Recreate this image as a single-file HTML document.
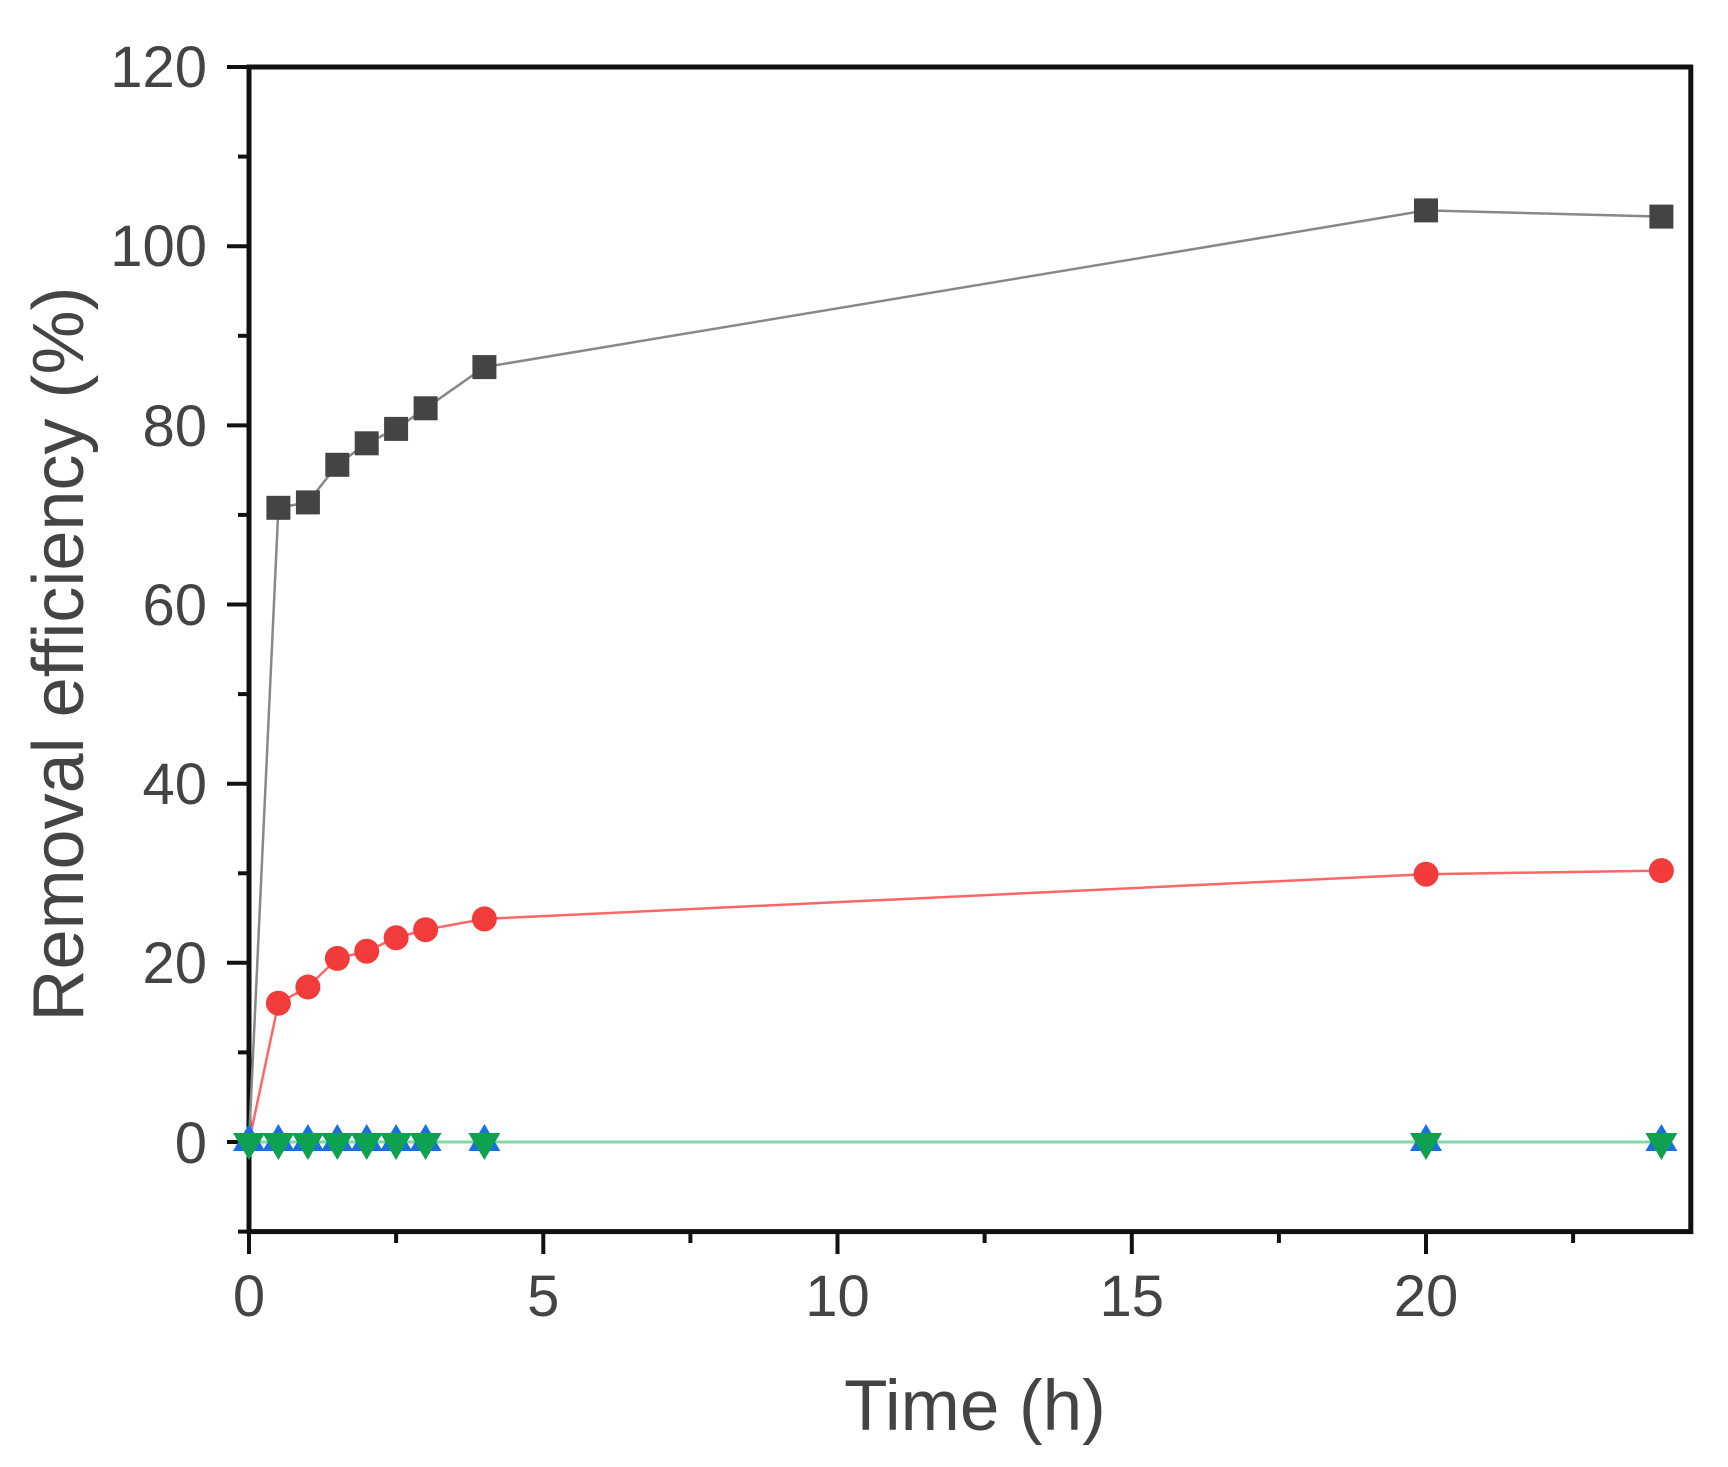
<!DOCTYPE html>
<html><head><style>body{margin:0;background:#fff}</style></head><body>
<svg width="1728" height="1462" viewBox="0 0 1728 1462" xmlns="http://www.w3.org/2000/svg" font-family="Liberation Sans, sans-serif">
<rect width="1728" height="1462" fill="#fff"/>
<rect x="249" y="67" width="1441.8" height="1164.6" fill="none" stroke="#111" stroke-width="5"/>
<g stroke="#111" stroke-width="4">
<line x1="227" x2="249" y1="67" y2="67"/><line x1="238" x2="249" y1="156.6" y2="156.6"/>
<line x1="227" x2="249" y1="246.2" y2="246.2"/><line x1="238" x2="249" y1="335.8" y2="335.8"/>
<line x1="227" x2="249" y1="425.4" y2="425.4"/><line x1="238" x2="249" y1="514.9" y2="514.9"/>
<line x1="227" x2="249" y1="604.5" y2="604.5"/><line x1="238" x2="249" y1="694.1" y2="694.1"/>
<line x1="227" x2="249" y1="783.7" y2="783.7"/><line x1="238" x2="249" y1="873.3" y2="873.3"/>
<line x1="227" x2="249" y1="962.8" y2="962.8"/><line x1="238" x2="249" y1="1052.4" y2="1052.4"/>
<line x1="227" x2="249" y1="1142" y2="1142"/><line x1="238" x2="249" y1="1231.6" y2="1231.6"/>
<line x1="249" x2="249" y1="1231" y2="1254"/><line x1="396.1" x2="396.1" y1="1231" y2="1243"/>
<line x1="543.3" x2="543.3" y1="1231" y2="1254"/><line x1="690.4" x2="690.4" y1="1231" y2="1243"/>
<line x1="837.5" x2="837.5" y1="1231" y2="1254"/><line x1="984.6" x2="984.6" y1="1231" y2="1243"/>
<line x1="1131.8" x2="1131.8" y1="1231" y2="1254"/><line x1="1278.9" x2="1278.9" y1="1231" y2="1243"/>
<line x1="1426" x2="1426" y1="1231" y2="1254"/><line x1="1573.1" x2="1573.1" y1="1231" y2="1243"/>
</g>
<g font-size="58" fill="#444" text-anchor="end">
<text x="207" y="87">120</text><text x="207" y="266">100</text><text x="207" y="446">80</text>
<text x="207" y="625">60</text><text x="207" y="804">40</text><text x="207" y="983">20</text><text x="207" y="1163">0</text>
</g>
<g font-size="58" fill="#444" text-anchor="middle">
<text x="249" y="1316">0</text><text x="543.3" y="1316">5</text><text x="837.5" y="1316">10</text>
<text x="1131.8" y="1316">15</text><text x="1426" y="1316">20</text>
</g>
<text x="975" y="1430" font-size="71" fill="#444" text-anchor="middle">Time (h)</text>
<text transform="translate(83,654) rotate(-90)" font-size="72" fill="#444" text-anchor="middle">Removal efficiency (%)</text>
<polyline points="249,1142 1661.4,1142" fill="none" stroke="#7fd8a8" stroke-width="3"/>
<polyline points="249,1142 278.4,507.8 307.9,502.4 337.3,464.8 366.7,443.3 396.1,428.9 425.6,408.3 484.4,367.1 1426,210.4 1661.4,216.6" fill="none" stroke="#888" stroke-width="2.5"/>
<polyline points="249,1142 278.4,1003.2 307.9,987 337.3,958.4 366.7,951.2 396.1,937.8 425.6,929.7 484.4,918.9 1426,874.2 1661.4,870.6" fill="none" stroke="#f66" stroke-width="2.5"/>
<g fill="#444">
<rect x="266.4" y="495.8" width="24" height="24"/><rect x="295.9" y="490.4" width="24" height="24"/>
<rect x="325.3" y="452.8" width="24" height="24"/><rect x="354.7" y="431.3" width="24" height="24"/>
<rect x="384.1" y="416.9" width="24" height="24"/><rect x="413.6" y="396.3" width="24" height="24"/>
<rect x="472.4" y="355.1" width="24" height="24"/><rect x="1414" y="198.4" width="24" height="24"/>
<rect x="1649.4" y="204.6" width="24" height="24"/>
</g>
<g fill="#f23c3c">
<circle cx="278.4" cy="1003.2" r="12.5"/><circle cx="307.9" cy="987" r="12.5"/><circle cx="337.3" cy="958.4" r="12.5"/>
<circle cx="366.7" cy="951.2" r="12.5"/><circle cx="396.1" cy="937.8" r="12.5"/><circle cx="425.6" cy="929.7" r="12.5"/>
<circle cx="484.4" cy="918.9" r="12.5"/><circle cx="1426" cy="874.2" r="12.5"/><circle cx="1661.4" cy="870.6" r="12.5"/>
</g>
<defs>
<g id="star"><polygon points="0,-18 16,9 -16,9" fill="#1a6fe6"/><polygon points="0,18 16,-9 -16,-9" fill="#0fa050"/></g>
</defs>
<use href="#star" x="249" y="1142"/><use href="#star" x="278.4" y="1142"/><use href="#star" x="307.9" y="1142"/>
<use href="#star" x="337.3" y="1142"/><use href="#star" x="366.7" y="1142"/><use href="#star" x="396.1" y="1142"/>
<use href="#star" x="425.6" y="1142"/><use href="#star" x="484.4" y="1142"/><use href="#star" x="1426" y="1142"/>
<use href="#star" x="1661.4" y="1142"/>
</svg>
</body></html>
